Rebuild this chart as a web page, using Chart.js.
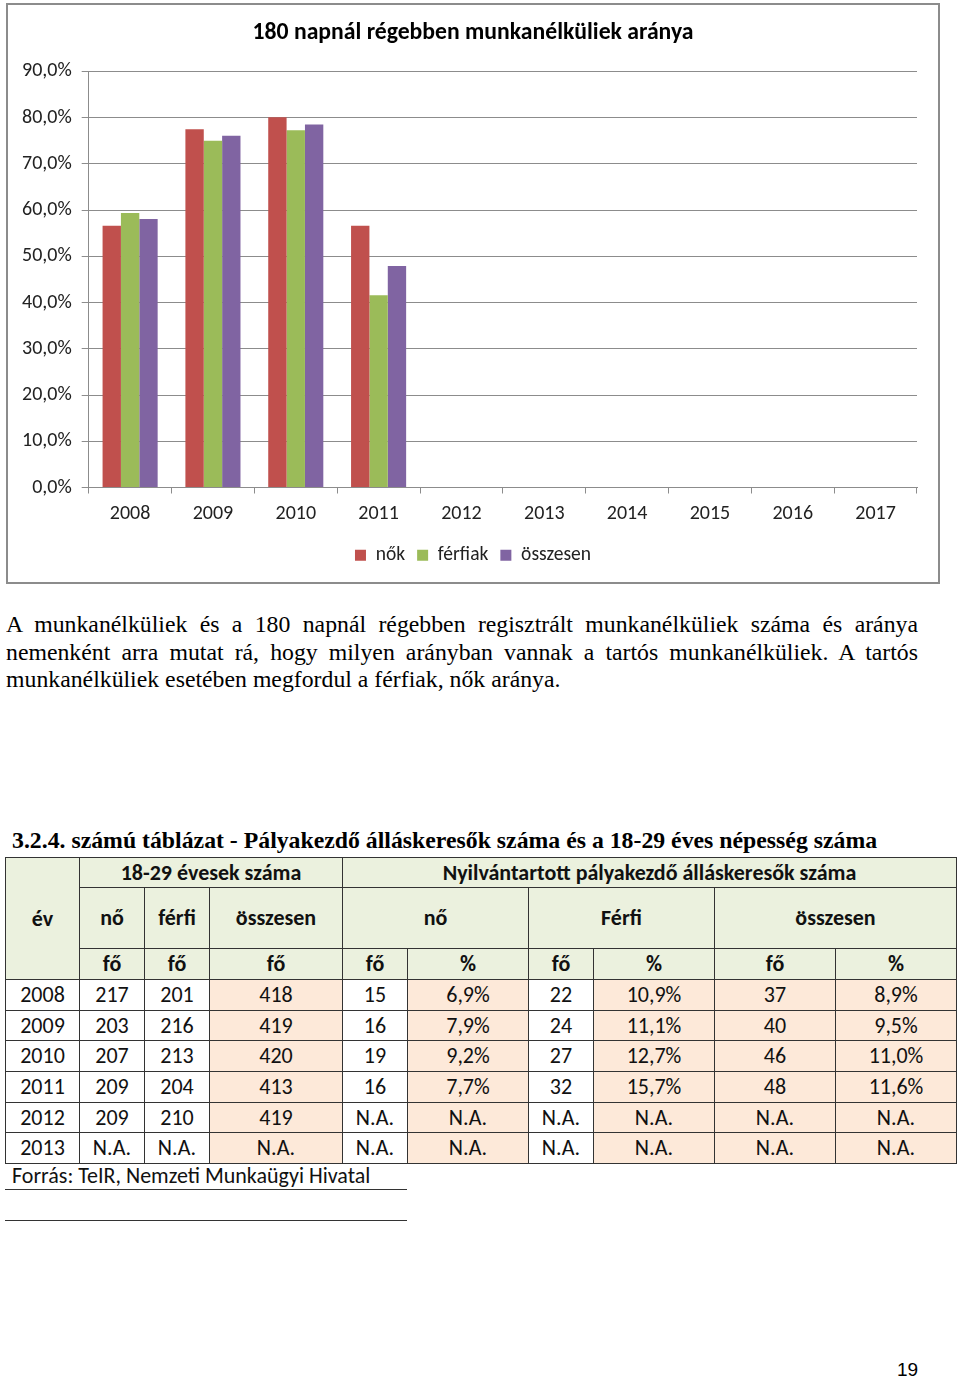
<!DOCTYPE html>
<html>
<head>
<meta charset="utf-8">
<script src="https://cdn.jsdelivr.net/npm/chart.js@4/dist/chart.umd.min.js"></script>
<style>
    body { margin: 0; width: 960px; height: 1378px; position: relative; background: #fff; font-family: Carlito, "Open Sans", sans-serif; }
    #chartBox { position: absolute; left: 6px; top: 3px; width: 930px; height: 577px; border: 2px solid #8c8c8c; }
    #chartBox canvas { display: block; }
    .serif { font-family: "Liberation Serif", serif; font-size: 23px; color: #000; white-space: nowrap; transform-origin: 0 0; }
    #para { position: absolute; left: 6px; top: 611px; }
    #para div { line-height: 27.6px; }
    #para .j { text-align: justify; text-align-last: justify; }
    #heading { position: absolute; left: 12px; top: 828px; font-weight: bold; }
    #dataTable { position: absolute; left: 5px; top: 857px; border-collapse: collapse; font-size: 22px; table-layout: fixed; }
    #dataTable td { border: 1.5px solid #333; text-align: center; padding: 0; color: #111; line-height: 24px; }
    #dataTable tr.h td { background: #ebf1de; font-weight: bold; }
    #dataTable td.pk { background: #fde9d9; }
    #source { position: absolute; left: 12px; top: 1163px; font-size: 22px; line-height: 26px; color: #111; }
    .rule { position: absolute; left: 5px; width: 402px; height: 0; border-top: 1.5px solid #333; }
    #pageNum { position: absolute; left: 897px; top: 1359px; font-family: "Liberation Sans", Arial, sans-serif; font-size: 19px; }
</style>
</head>
<body>
<div id="chartBox"><canvas id="chart" width="930" height="577"></canvas></div>

<div id="para" class="serif">
    <div class="j">A munkanélküliek és a 180 napnál régebben regisztrált munkanélküliek száma és aránya</div>
    <div class="j">nemenként arra mutat rá, hogy milyen arányban vannak a tartós munkanélküliek. A tartós</div>
    <div id="lastLine" style="display:inline-block">munkanélküliek esetében megfordul a férfiak, nők aránya.</div>
</div>

<div id="heading" class="serif">3.2.4. számú táblázat - Pályakezdő álláskeresők száma és a 18-29 éves népesség száma</div>

<table id="dataTable"></table>
<div id="source">Forrás: TeIR, Nemzeti Munkaügyi Hivatal</div>
<div class="rule" style="top:1189px"></div>
<div class="rule" style="top:1220px"></div>
<div id="pageNum">19</div>

<script>
// chart data
const years = ['2008', '2009', '2010', '2011', '2012', '2013', '2014', '2015', '2016', '2017'];
const nok = [56.6, 77.5, 80.1, 56.6, null, null, null, null, null, null];
const ferfiak = [59.4, 75.0, 77.3, 41.6, null, null, null, null, null, null];
const osszesen = [58.1, 76.1, 78.5, 47.9, null, null, null, null, null, null];
const yTicks = [0, 10, 20, 30, 40, 50, 60, 70, 80, 90];

// table data
const tYears = ['2008', '2009', '2010', '2011', '2012', '2013'];
const popNo = ['217', '203', '207', '209', '209', 'N.A.'];
const popFerfi = ['201', '216', '213', '204', '210', 'N.A.'];
const popOssz = ['418', '419', '420', '413', '419', 'N.A.'];
const regNoFo = ['15', '16', '19', '16', 'N.A.', 'N.A.'];
const regNoPct = ['6,9%', '7,9%', '9,2%', '7,7%', 'N.A.', 'N.A.'];
const regFerfiFo = ['22', '24', '27', '32', 'N.A.', 'N.A.'];
const regFerfiPct = ['10,9%', '11,1%', '12,7%', '15,7%', 'N.A.', 'N.A.'];
const regOsszFo = ['37', '40', '46', '48', 'N.A.', 'N.A.'];
const regOsszPct = ['8,9%', '9,5%', '11,0%', '11,6%', 'N.A.', 'N.A.'];

const fontFam = 'Carlito, "Open Sans", sans-serif';

// y axis is squeezed into the left padding so title and legend stay centred;
// widen its box again after layout so the tick labels are not clipped
const yAxisWiden = {
    id: 'yAxisWiden',
    afterLayout(chart) { chart.scales.y.left -= 17; }
};

new Chart(document.getElementById('chart'), {
    type: 'bar',
    data: {
        labels: years,
        datasets: [
            { label: 'nők', data: nok, backgroundColor: '#c0504d' },
            { label: 'férfiak', data: ferfiak, backgroundColor: '#9bbb59' },
            { label: 'összesen', data: osszesen, backgroundColor: '#8064a2' }
        ]
    },
    options: {
        responsive: false,
        animation: false,
        layout: { padding: { left: 21, right: 21, top: 0, bottom: 7 } },
        datasets: { bar: { barPercentage: 1, categoryPercentage: 0.665 } },
        plugins: {
            title: {
                display: true,
                text: '180 napnál régebben munkanélküliek aránya',
                color: '#000',
                font: { family: fontFam, size: 23.7, weight: 'bold' },
                padding: { top: 14, bottom: 24 }
            },
            legend: {
                position: 'bottom',
                labels: {
                    color: '#222',
                    font: { family: fontFam, size: 19.5 },
                    boxWidth: 11,
                    boxHeight: 11,
                    padding: 12
                }
            },
            tooltip: { enabled: false }
        },
        scales: {
            x: {
                grid: { display: true, drawOnChartArea: false, color: '#8c8c8c', tickLength: 6, offset: true },
                border: { color: '#8c8c8c', width: 1 },
                ticks: { color: '#222', font: { family: fontFam, size: 20 }, padding: 8 }
            },
            y: {
                min: 0,
                max: 90,
                afterBuildTicks: axis => { axis.ticks = yTicks.map(v => ({ value: v })); },
                afterFit: axis => { axis.width -= 17; },
                grid: { color: '#8c8c8c', tickLength: 7 },
                border: { color: '#8c8c8c', width: 1 },
                ticks: {
                    color: '#222',
                    font: { family: fontFam, size: 20 },
                    padding: 10,
                    callback: v => v.toFixed(1).replace('.', ',') + '%'
                }
            }
        }
    },
    plugins: [yAxisWiden]
});

// build table
const colWidths = [74, 65, 65, 133, 65, 121, 65, 121, 121, 121];
const table = document.getElementById('dataTable');
let html = '<colgroup>' + colWidths.map(w => `<col style="width:${w}px">`).join('') + '</colgroup>';
html += '<tr class="h" style="height:30px"><td rowspan="3">év</td><td colspan="3">18-29 évesek száma</td><td colspan="6">Nyilvántartott pályakezdő álláskeresők száma</td></tr>';
html += '<tr class="h" style="height:61px"><td>nő</td><td>férfi</td><td>összesen</td><td colspan="2">nő</td><td colspan="2">Férfi</td><td colspan="2">összesen</td></tr>';
html += '<tr class="h" style="height:31px">' + ['fő', 'fő', 'fő', 'fő', '%', 'fő', '%', 'fő', '%'].map(t => `<td>${t}</td>`).join('') + '</tr>';
for (let i = 0; i < tYears.length; i++) {
    html += `<tr style="height:30.7px"><td>${tYears[i]}</td><td>${popNo[i]}</td><td>${popFerfi[i]}</td>` +
        `<td class="pk">${popOssz[i]}</td><td>${regNoFo[i]}</td><td class="pk">${regNoPct[i]}</td>` +
        `<td>${regFerfiFo[i]}</td><td class="pk">${regFerfiPct[i]}</td>` +
        `<td class="pk">${regOsszFo[i]}</td><td class="pk">${regOsszPct[i]}</td></tr>`;
}
table.innerHTML = html;

// squeeze / stretch the serif text to the widths in the scanned page
const heading = document.getElementById('heading');
heading.style.transform = `scaleX(${865 / heading.scrollWidth})`;
const para = document.getElementById('para');
const lastLine = document.getElementById('lastLine');
const s = 554 / lastLine.scrollWidth;
para.style.width = (912 / s) + 'px';
para.style.transform = `scaleX(${s})`;
</script>
</body>
</html>
